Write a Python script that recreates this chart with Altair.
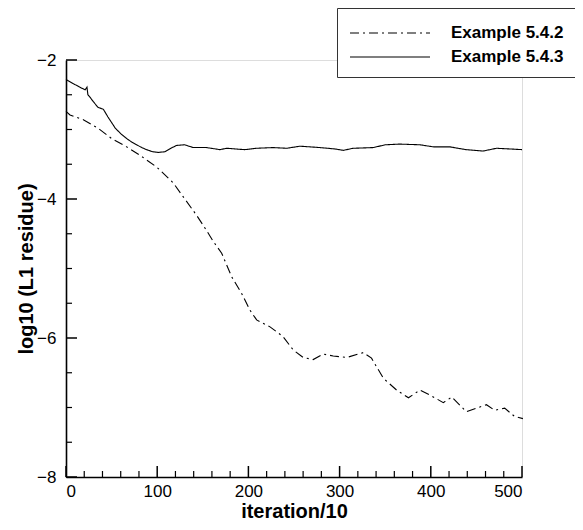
import altair as alt
import pandas as pd

# --- data ---
x_543 = [0, 8, 15, 21, 23, 24, 26, 30, 35, 41, 46, 54, 60, 66.5, 72, 77.5, 83, 88.4, 95, 101, 108.5, 115, 121, 130,
         139.6, 154, 169, 176, 196, 209, 227, 242, 256.6, 278.5, 295, 304, 315, 337, 350, 366, 388, 403, 421, 439,
         457.5, 472, 487, 500]
y_543 = [-2.28, -2.34, -2.39, -2.43, -2.39, -2.50, -2.53, -2.60, -2.68, -2.71, -2.82, -2.98, -3.06, -3.13, -3.18,
         -3.22, -3.26, -3.29, -3.32, -3.33, -3.32, -3.27, -3.23, -3.22, -3.26, -3.26, -3.29, -3.27, -3.29, -3.27,
         -3.26, -3.27, -3.24, -3.26, -3.28, -3.30, -3.27, -3.26, -3.22, -3.21, -3.22, -3.25, -3.25, -3.29, -3.31,
         -3.27, -3.28, -3.29]

x_542 = [0, 4.4, 19, 35, 50, 66.5, 81, 99.4, 117.7, 128.6, 143, 154, 161.5, 170.7, 181.7, 192.6, 201.8, 209,
         223.7, 238, 249, 260, 271, 282, 293, 307.8, 326, 335, 348, 362.6, 375.5, 388, 399, 413.7, 423, 439, 450,
         461, 470, 481, 492, 501]
y_542 = [-2.74, -2.79, -2.86, -2.98, -3.13, -3.25, -3.37, -3.54, -3.77, -3.97, -4.23, -4.45, -4.61, -4.78, -5.12,
         -5.36, -5.60, -5.74, -5.84, -5.98, -6.17, -6.28, -6.31, -6.23, -6.26, -6.28, -6.21, -6.29, -6.58, -6.75,
         -6.86, -6.75, -6.82, -6.93, -6.85, -7.06, -7.01, -6.96, -7.04, -7.01, -7.13, -7.16]

series_names = ["Example 5.4.2", "Example 5.4.3"]

x_major = [0, 100, 200, 300, 400, 500]
x_minor = [20, 40, 60, 80, 120, 140, 160, 180, 220, 240, 260, 280, 320, 340, 360, 380, 420, 440, 460, 480]
y_major = [-8, -6, -4, -2]
y_minor = [-7.5, -7, -6.5, -5.5, -5, -4.5, -3.5, -3, -2.5]

df = pd.concat([
    pd.DataFrame({"x": x_542, "y": y_542, "series": series_names[0]}),
    pd.DataFrame({"x": x_543, "y": y_543, "series": series_names[1]}),
])

W, H = 456, 417
FONT = "Liberation Sans"

xscale = alt.Scale(domain=[0, 500], nice=False, zero=False)
yscale = alt.Scale(domain=[-8, -2], nice=False, zero=False)

lines = alt.Chart(df).mark_line(color="black", strokeWidth=1.1).encode(
    x=alt.X("x:Q", scale=xscale,
            axis=alt.Axis(title="iteration/10", values=x_major, format="d", ticks=False, grid=False,
                          domainColor="black", domainWidth=1.6,
                          labelFont=FONT, labelFontSize=17, labelColor="black", labelPadding=6,
                          titleFont=FONT, titleFontSize=20, titleFontWeight="bold", titleColor="black",
                          titlePadding=2)),
    y=alt.Y("y:Q", scale=yscale,
            axis=alt.Axis(title="log10 (L1 residue)", values=y_major, format="d", ticks=False, grid=False,
                          domainColor="black", domainWidth=1.6,
                          labelFont=FONT, labelFontSize=17, labelColor="black", labelPadding=10,
                          titleFont=FONT, titleFontSize=20, titleFontWeight="bold", titleColor="black",
                          titlePadding=0)),
    strokeDash=alt.StrokeDash(
        "series:N",
        scale=alt.Scale(domain=series_names, range=[[9, 4, 2, 4], [1, 0]]),
        legend=alt.Legend(title=" ", titleFontSize=4, titlePadding=0, orient="none",
                          legendX=271, legendY=-52, strokeColor="#333", padding=12,
                          fillColor="white",
                          symbolType="M-1,0L9,0", symbolSize=256, symbolStrokeWidth=1.1,
                          symbolStrokeColor="black",
                          labelFont=FONT, labelFontSize=17, labelFontWeight="bold",
                          labelColor="black", labelOffset=84, rowPadding=7),
    ),
)

xmaj = alt.Chart(pd.DataFrame({"t": x_major})).mark_rule(color="black", strokeWidth=1.5).encode(
    x=alt.X("t:Q", scale=xscale), y=alt.value(H), y2=alt.value(H - 11))
xmin = alt.Chart(pd.DataFrame({"t": x_minor})).mark_rule(color="black", strokeWidth=1.2).encode(
    x=alt.X("t:Q", scale=xscale), y=alt.value(H), y2=alt.value(H - 6))
ymaj = alt.Chart(pd.DataFrame({"t": y_major})).mark_rule(color="black", strokeWidth=1.5).encode(
    y=alt.Y("t:Q", scale=yscale), x=alt.value(0), x2=alt.value(11))
ymin = alt.Chart(pd.DataFrame({"t": y_minor})).mark_rule(color="black", strokeWidth=1.2).encode(
    y=alt.Y("t:Q", scale=yscale), x=alt.value(0), x2=alt.value(6))

chart = alt.layer(xmaj, xmin, ymaj, ymin, lines).properties(
    width=W, height=H,
    padding={"left": 58, "top": 52, "right": 53, "bottom": 45},
    autosize=alt.AutoSizeParams(type="none"),
).configure_view(stroke=None).configure(background="white")

chart.save("out.html", embed_options={"renderer": "svg", "actions": False})
